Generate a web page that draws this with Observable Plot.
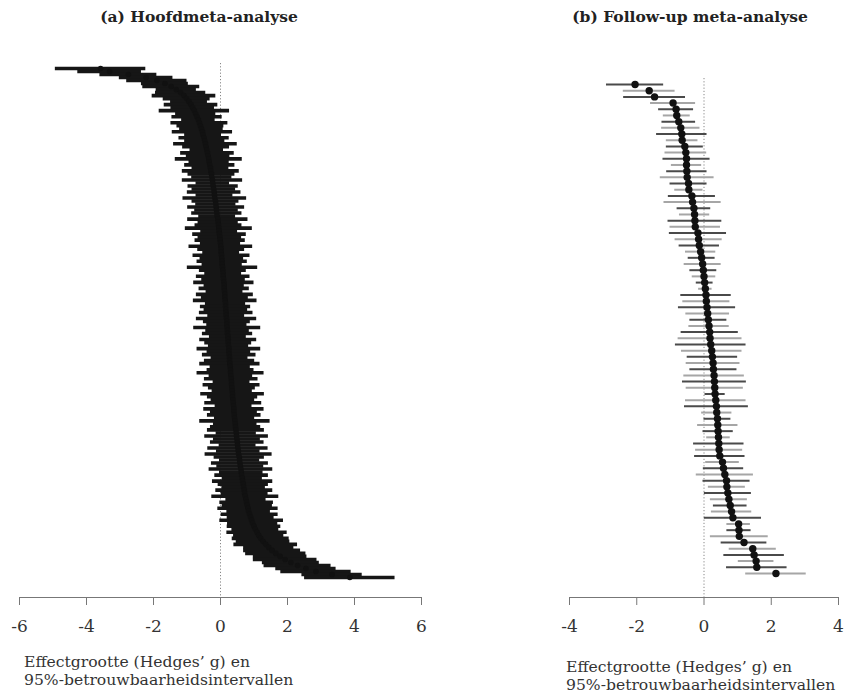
<!DOCTYPE html>
<html>
<head>
<meta charset="utf-8">
<script src="https://cdn.jsdelivr.net/npm/d3@7"></script>
<script src="https://cdn.jsdelivr.net/npm/@observablehq/plot@0.6"></script>
<style>
  html, body { margin: 0; padding: 0; background: #fff; }
  #wrap { position: relative; width: 850px; height: 699px; overflow: hidden; font-family: "DejaVu Serif", serif; }
  .title { position: absolute; top: 8px; font-weight: bold; font-size: 15.5px; line-height: 18px; color: #222; text-align: center; white-space: nowrap; }
  .cap { position: absolute; font-family: "DejaVu Serif", serif; font-size: 15.6px; line-height: 18px; color: #333; white-space: nowrap; }
  .panel { position: absolute; top: 0; }
  .panel svg text { fill: #333; }
</style>
</head>
<body>
<div id="wrap">
  <div class="title" style="left:0; width:398px;">(a) Hoofdmeta-analyse</div>
  <div class="title" style="left:540px; width:300px;">(b) Follow-up meta-analyse</div>
  <div class="panel" id="pa" style="left:0;"></div>
  <div class="panel" id="pb" style="left:450px;"></div>
  <div class="cap" style="left:24px; top:653px;">Effectgrootte (Hedges’ g) en<br>95%-betrouwbaarheidsintervallen</div>
  <div class="cap" style="left:566px; top:658px;">Effectgrootte (Hedges’ g) en<br>95%-betrouwbaarheidsintervallen</div>
</div>
<script>
// ---------- Panel (a): main meta-analysis, sorted effect sizes ----------
const effectA = [
  -3.58, -3.31, -2.75, -2.22, -1.90, -1.66, -1.47, -1.32, -1.19, -1.09,
  -1.01, -0.94, -0.88, -0.83, -0.78, -0.74, -0.70, -0.66, -0.63, -0.60,
  -0.57, -0.54, -0.52, -0.49, -0.47, -0.45, -0.43, -0.41, -0.39, -0.37,
  -0.35, -0.34, -0.32, -0.30, -0.29, -0.27, -0.26, -0.24, -0.23, -0.22,
  -0.20, -0.19, -0.18, -0.17, -0.15, -0.14, -0.13, -0.12, -0.11, -0.10,
  -0.08, -0.07, -0.06, -0.05, -0.04, -0.03, -0.02, -0.01, 0.00, 0.01,
  0.02, 0.02, 0.03, 0.04, 0.05, 0.05, 0.06, 0.07, 0.08, 0.08,
  0.09, 0.10, 0.11, 0.11, 0.12, 0.13, 0.13, 0.14, 0.15, 0.15,
  0.16, 0.17, 0.17, 0.18, 0.19, 0.19, 0.20, 0.21, 0.21, 0.22,
  0.23, 0.23, 0.24, 0.25, 0.25, 0.26, 0.27, 0.27, 0.28, 0.29,
  0.30, 0.30, 0.31, 0.32, 0.33, 0.33, 0.34, 0.35, 0.36, 0.36,
  0.37, 0.38, 0.39, 0.40, 0.40, 0.41, 0.42, 0.43, 0.44, 0.45,
  0.46, 0.47, 0.48, 0.49, 0.50, 0.51, 0.52, 0.53, 0.54, 0.56,
  0.57, 0.58, 0.59, 0.61, 0.62, 0.63, 0.65, 0.66, 0.68, 0.69,
  0.71, 0.72, 0.74, 0.76, 0.78, 0.80, 0.82, 0.84, 0.87, 0.90,
  0.93, 0.96, 1.00, 1.04, 1.09, 1.14, 1.20, 1.27, 1.35, 1.44,
  1.54, 1.65, 1.78, 1.93, 2.10, 2.30, 2.55, 2.85, 3.33, 3.86
];
const halfCiA = [
  1.35, 0.95, 0.85, 0.80, 0.90, 0.70, 0.85, 0.60, 0.75, 0.95,
  0.70, 0.55, 0.80, 0.65, 1.05, 0.60, 0.75, 0.50, 0.85, 0.70,
  0.65, 0.90, 0.55, 0.75, 0.60, 0.95, 0.70, 0.50, 0.80, 0.65,
  1.00, 0.60, 0.75, 0.55, 0.85, 0.70, 0.60, 0.90, 0.50, 0.75,
  0.65, 0.80, 0.55, 0.95, 0.70, 0.60, 0.85, 0.65, 0.75, 0.55,
  0.90, 0.60, 0.70, 1.00, 0.55, 0.80, 0.65, 0.75, 0.60, 0.95,
  0.70, 0.55, 0.85, 0.65, 0.75, 0.60, 1.05, 0.70, 0.55, 0.80,
  0.65, 0.90, 0.60, 0.75, 0.55, 0.85, 0.70, 0.95, 0.60, 0.75,
  0.65, 0.80, 0.55, 0.90, 0.70, 0.60, 1.00, 0.65, 0.75, 0.55,
  0.85, 0.70, 0.60, 0.95, 0.65, 0.80, 0.55, 0.75, 0.90, 0.60,
  0.70, 1.00, 0.65, 0.80, 0.55, 0.85, 0.70, 0.60, 0.95, 0.75,
  0.65, 0.85, 0.55, 0.90, 0.70, 0.80, 0.60, 1.05, 0.65, 0.75,
  0.85, 0.60, 0.95, 0.70, 0.80, 0.55, 0.90, 0.65, 1.00, 0.75,
  0.60, 0.85, 0.70, 0.95, 0.65, 0.80, 0.60, 0.90, 0.75, 0.65,
  0.85, 0.70, 1.00, 0.60, 0.80, 0.75, 0.90, 0.65, 0.85, 0.70,
  0.95, 0.75, 0.80, 0.70, 0.90, 0.75, 0.85, 0.80, 0.95, 0.75,
  0.85, 0.90, 0.80, 0.95, 0.85, 1.00, 0.90, 1.05, 0.90, 1.35
];
const ticksA = [-6, -4, -2, 0, 2, 4, 6];

// ---------- Panel (b): follow-up meta-analysis ----------
const effectB = [
  -2.05, -1.63, -1.47, -0.92, -0.83, -0.81, -0.75, -0.69, -0.66, -0.65,
  -0.57, -0.54, -0.52, -0.52, -0.51, -0.50, -0.46, -0.45, -0.36, -0.34,
  -0.30, -0.28, -0.27, -0.26, -0.18, -0.16, -0.14, -0.10, -0.07, -0.04,
  -0.02, 0.00, 0.02, 0.04, 0.06, 0.07, 0.09, 0.11, 0.13, 0.15,
  0.17, 0.18, 0.20, 0.23, 0.25, 0.27, 0.28, 0.30, 0.31, 0.32,
  0.33, 0.35, 0.37, 0.38, 0.40, 0.41, 0.42, 0.43, 0.44, 0.45,
  0.47, 0.55, 0.58, 0.62, 0.67, 0.68, 0.71, 0.74, 0.78, 0.82,
  0.86, 1.03, 1.04, 1.05, 1.19, 1.45, 1.49, 1.55, 1.57, 2.14
];
const halfCiB = [
  0.85, 0.77, 0.92, 0.67, 0.52, 0.40, 0.50, 0.57, 0.75, 0.47,
  0.55, 0.62, 0.70, 0.45, 0.60, 0.80, 0.55, 0.42, 0.70, 0.85,
  0.50, 0.45, 0.80, 0.75, 0.85, 0.70, 0.60, 0.45, 0.40, 0.55,
  0.40, 0.35, 0.25, 0.20, 0.75, 0.70, 0.85, 0.65, 0.55, 0.60,
  0.85, 0.95, 1.05, 0.90, 0.75, 0.80, 0.70, 0.90, 0.95, 0.85,
  0.30, 0.90, 0.95, 0.45, 0.40, 0.60, 0.45, 0.35, 0.75, 0.70,
  0.75, 0.50, 0.60, 0.85, 0.70, 0.55, 0.70, 0.55, 0.50, 0.60,
  0.85, 0.35, 0.36, 0.86, 0.68, 0.70, 0.90, 0.53, 0.90, 0.90
];
const ticksB = [-4, -2, 0, 2, 4];

const fmt = d => (d < 0 ? "-" + Math.abs(d) : String(d));

const rowsA = effectA.map((g, i) => ({ i, g, lo: g - halfCiA[i], hi: g + halfCiA[i] }));
const rowsB = effectB.map((g, i) => ({ i, g, lo: g - halfCiB[i], hi: g + halfCiB[i] }));

const plotA = Plot.plot({
  width: 450, height: 640,
  marginLeft: 19, marginRight: 29, marginTop: 63, marginBottom: 43,
  style: { fontFamily: "DejaVu Serif, serif", fontSize: "17px", color: "#777", background: "transparent" },
  x: { domain: [-6, 6] },
  y: { domain: [0, effectA.length - 1], range: [68, 577], axis: null },
  marks: [
    Plot.ruleX([0], { stroke: "#888", strokeWidth: 1, strokeDasharray: "1.2,2" }),
    Plot.ruleY(rowsA, { y: "i", x1: "lo", x2: "hi", stroke: "#161616", strokeWidth: 3.6 }),
    Plot.dot(rowsA, { x: "g", y: "i", r: 2.8, fill: "#111", stroke: "none" }),
    Plot.frame({ anchor: "bottom", stroke: "#777" }),
    Plot.axisX({ ticks: ticksA, tickFormat: fmt, tickSize: 8, tickPadding: 14, fontSize: 17, stroke: "#777" })
  ]
});
document.getElementById("pa").appendChild(plotA);

const plotB = Plot.plot({
  width: 400, height: 640,
  marginLeft: 119, marginRight: 12, marginTop: 78, marginBottom: 43,
  style: { fontFamily: "DejaVu Serif, serif", fontSize: "17px", color: "#777", background: "transparent" },
  x: { domain: [-4, 4] },
  y: { domain: [0, effectB.length - 1], range: [84, 573], axis: null },
  color: { domain: ["dark", "light"], range: ["#4a4a4a", "#a6a6a6"] },
  marks: [
    Plot.ruleX([0], { stroke: "#888", strokeWidth: 1, strokeDasharray: "1.2,2" }),
    Plot.ruleY(rowsB, { y: "i", x1: "lo", x2: "hi", stroke: d => (d.i % 2 ? "light" : "dark"), strokeWidth: 2 }),
    Plot.dot(rowsB, { x: "g", y: "i", r: 3.7, fill: "#111", stroke: "none" }),
    Plot.frame({ anchor: "bottom", stroke: "#777" }),
    Plot.axisX({ ticks: ticksB, tickFormat: fmt, tickSize: 8, tickPadding: 14, fontSize: 17, stroke: "#777" })
  ]
});
document.getElementById("pb").appendChild(plotB);
</script>
</body>
</html>
